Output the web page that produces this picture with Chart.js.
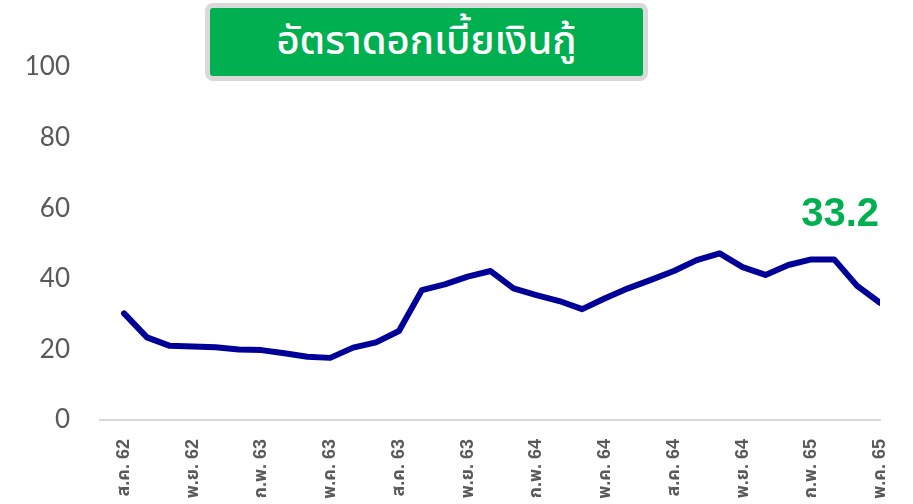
<!DOCTYPE html>
<html>
<head>
<meta charset="utf-8">
<script src="https://cdn.jsdelivr.net/npm/chart.js@4/dist/chart.umd.min.js"></script>
<style>
  html, body { margin: 0; padding: 0; background: #fff; overflow: hidden; }
  #wrap { position: relative; width: 913px; height: 504px; }
  #title-box {
    position: absolute; left: 205px; top: 3px; width: 433px; height: 68px;
    background: #00b050; border: 5px solid #d9d9d9; border-radius: 8px;
    color: #fff; font: 500 40px "Noto Sans Thai", "Noto Sans", Tahoma, sans-serif;
    display: flex; align-items: center; justify-content: center;
  }
</style>
</head>
<body>
<div id="wrap">
  <canvas id="chart" width="913" height="504"></canvas>
  <div id="title-box">อัตราดอกเบี้ยเงินกู้</div>
</div>
<script>
// เดือน ส.ค. 62 - พ.ค. 65
var months = [
  'ส.ค. 62', 'ก.ย. 62', 'ต.ค. 62', 'พ.ย. 62', 'ธ.ค. 62', 'ม.ค. 63', 'ก.พ. 63', 'มี.ค. 63', 'เม.ย. 63',
  'พ.ค. 63', 'มิ.ย. 63', 'ก.ค. 63', 'ส.ค. 63', 'ก.ย. 63', 'ต.ค. 63', 'พ.ย. 63', 'ธ.ค. 63', 'ม.ค. 64',
  'ก.พ. 64', 'มี.ค. 64', 'เม.ย. 64', 'พ.ค. 64', 'มิ.ย. 64', 'ก.ค. 64', 'ส.ค. 64', 'ก.ย. 64', 'ต.ค. 64',
  'พ.ย. 64', 'ธ.ค. 64', 'ม.ค. 65', 'ก.พ. 65', 'มี.ค. 65', 'เม.ย. 65', 'พ.ค. 65'
];
var rates = [
  30.2, 23.4, 21.0, 20.8, 20.6, 20.0, 19.8, 18.9, 17.9, 17.6, 20.5, 22.0,
  25.2, 36.8, 38.4, 40.6, 42.2, 37.3, 35.4, 33.7, 31.4, 34.5, 37.3, 39.7,
  42.2, 45.3, 47.2, 43.3, 41.1, 43.9, 45.5, 45.5, 38.0, 33.2
];
var tickEvery = 3;
var yTicks = [0, 20, 40, 60, 80, 100];

var points = rates.map(function(v, i) { return { x: i, y: v }; });

// ป้ายค่าล่าสุด
var lastLabel = {
  id: 'lastLabel',
  afterDatasetsDraw: function(chart) {
    var meta = chart.getDatasetMeta(0);
    var pt = meta.data[meta.data.length - 1];
    var ctx = chart.ctx;
    ctx.save();
    ctx.fillStyle = '#00b050';
    ctx.font = 'bold 40px "Liberation Sans", Arial, sans-serif';
    ctx.textAlign = 'right';
    ctx.textBaseline = 'middle';
    ctx.fillText(rates[rates.length - 1].toFixed(1), pt.x - 1, pt.y - 88);
    ctx.restore();
  }
};

new Chart(document.getElementById('chart'), {
  type: 'line',
  data: {
    datasets: [{
      data: points,
      borderColor: '#000099',
      borderWidth: 6,
      pointRadius: 0,
      tension: 0,
      borderCapStyle: 'round',
      borderJoinStyle: 'round'
    }]
  },
  options: {
    responsive: false,
    animation: false,
    layout: { padding: { top: 67, right: 33, left: 0, bottom: 0 } },
    plugins: { legend: { display: false }, tooltip: { enabled: false } },
    scales: {
      x: {
        type: 'linear',
        min: -1.05,
        max: 33,
        afterBuildTicks: function(scale) {
          var t = [];
          for (var i = 0; i < months.length; i += tickEvery) t.push({ value: i });
          scale.ticks = t;
        },
        afterFit: function(scale) {
          scale.height = 84;
          scale.paddingLeft = 0;
          scale.paddingRight = 0;
        },
        grid: { display: false, drawTicks: false },
        border: { display: true, color: '#d9d9d9', width: 2 },
        ticks: {
          autoSkip: false,
          minRotation: 90,
          maxRotation: 90,
          padding: 19,
          color: '#595959',
          font: { family: '"Liberation Sans", "Noto Sans Thai", Tahoma, sans-serif', size: 18, weight: 'bold' },
          callback: function(v) { return months[v]; }
        }
      },
      y: {
        min: 0,
        max: 100,
        afterBuildTicks: function(scale) {
          scale.ticks = yTicks.map(function(v) { return { value: v }; });
        },
        afterFit: function(scale) { scale.width = 100; },
        grid: { display: false, drawTicks: false },
        border: { display: false },
        ticks: {
          padding: 30,
          color: '#595959',
          font: { family: 'Lato, "Open Sans", sans-serif', size: 26 }
        }
      }
    }
  },
  plugins: [lastLabel]
});
</script>
</body>
</html>
